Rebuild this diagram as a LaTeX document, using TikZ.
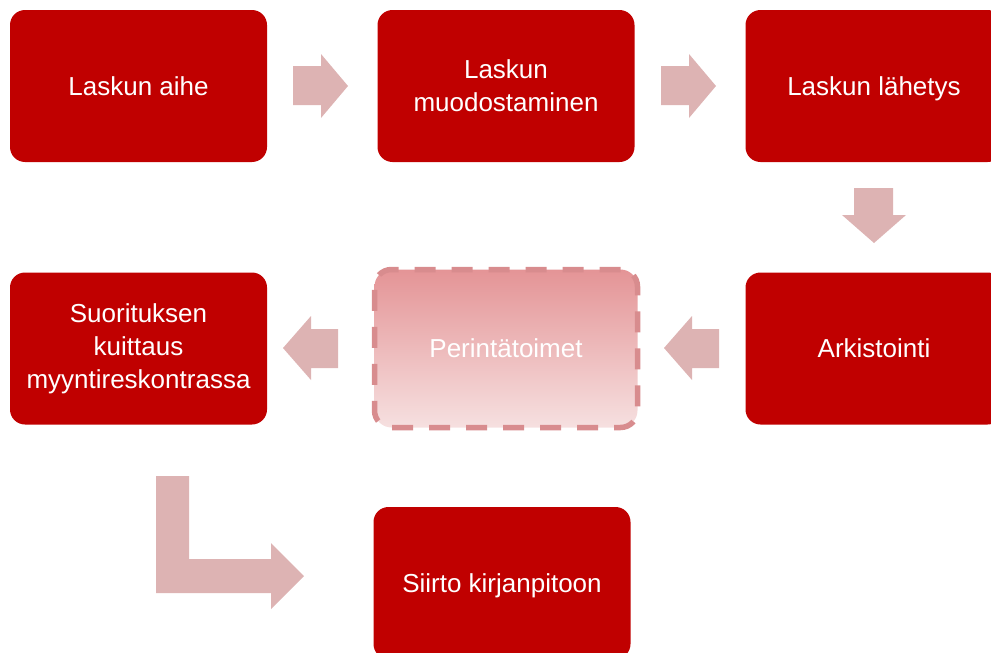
\documentclass[tikz,border=0pt]{standalone}
\usepackage{fontspec}
\setmainfont{Liberation Sans}
\definecolor{boxred}{RGB}{192,0,0}
\definecolor{arrowpink}{RGB}{221,179,179}
\definecolor{dashpink}{RGB}{216,140,142}
\definecolor{gradtop}{RGB}{228,148,150}
\definecolor{gradbot}{RGB}{246,224,224}
\begin{document}
\begin{tikzpicture}[x=1pt,y=-1pt,
  stepbox/.style={rectangle, rounded corners=15pt, fill=boxred, text=white,
    minimum width=257pt, minimum height=152pt, inner sep=0pt, align=center,
    font=\fontsize{26}{33}\selectfont},
  dashbox/.style={rectangle, rounded corners=17pt, text=white,
    top color=gradtop, bottom color=gradbot,
    draw=dashpink, line width=5.5pt, dash pattern=on 21pt off 16pt,
    minimum width=263pt, minimum height=158pt, inner sep=0pt, align=center,
    font=\fontsize{26}{33}\selectfont},
  blockarrow/.style={fill=arrowpink}]
\useasboundingbox (0,0) rectangle (991,653);
\clip (0,0) rectangle (991,653);
% boxes
\node[stepbox] (b1) at (138.5,86) {Laskun aihe};
\node[stepbox] (b2) at (506,86) {Laskun\\muodostaminen};
\node[stepbox, text depth=0pt] (b3) at (874,86) {Laskun lähetys};
\node[stepbox] (b4) at (138.5,348.5) {Suorituksen\\kuittaus\\myyntireskontrassa};
\node[dashbox] (b5) at (506,348.5) {Perintätoimet};
\node[stepbox] (b6) at (874,348.5) {Arkistointi};
\node[stepbox, text depth=0pt] (b7) at (502,583) {Siirto kirjanpitoon};
% block arrows
\fill[blockarrow] (293,66) -- (321,66) -- (321,54) -- (348,86) -- (321,118) -- (321,105) -- (293,105) -- cycle;
\fill[blockarrow] (661,66) -- (689,66) -- (689,54) -- (716,86) -- (689,118) -- (689,105) -- (661,105) -- cycle;
\fill[blockarrow] (854,188) -- (893,188) -- (893,215) -- (906,215) -- (874,243) -- (842,215) -- (854,215) -- cycle;
\fill[blockarrow] (719,329) -- (692,329) -- (692,316) -- (664,348) -- (692,380) -- (692,368) -- (719,368) -- cycle;
\fill[blockarrow] (338,329) -- (311,329) -- (311,316) -- (283,348) -- (311,380) -- (311,368) -- (338,368) -- cycle;
\fill[blockarrow] (156,476) -- (189,476) -- (189,559) -- (271,559) -- (271,543) -- (304,576) -- (271,609) -- (271,593) -- (156,593) -- cycle;
\end{tikzpicture}
\end{document}
